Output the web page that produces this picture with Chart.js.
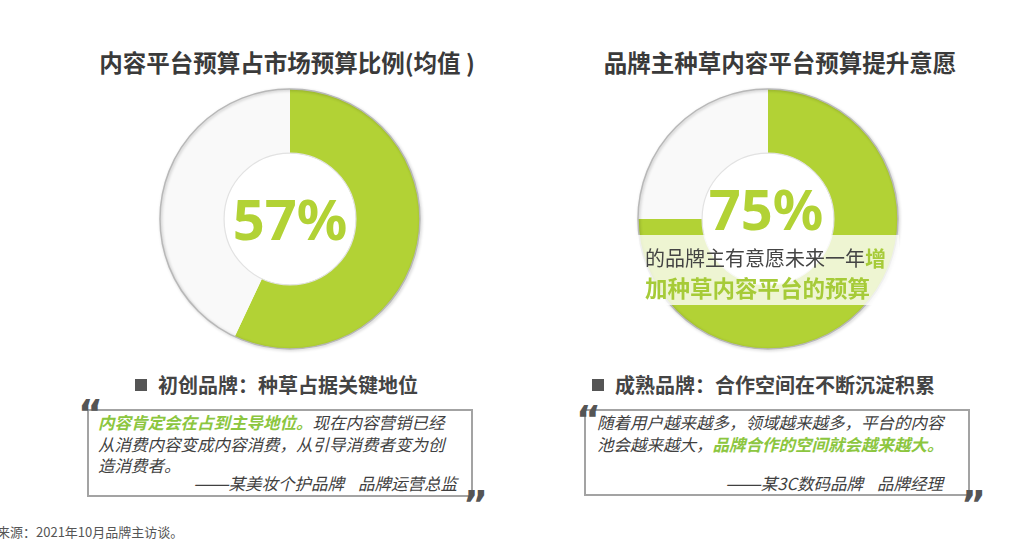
<!DOCTYPE html>
<html>
<head>
<meta charset="utf-8">
<script src="https://cdn.jsdelivr.net/npm/chart.js@4.4.1/dist/chart.umd.min.js"></script>
<style>
  html, body { margin:0; padding:0; background:#fff; }
  #stage { position:relative; width:1016px; height:542px; overflow:hidden; font-family:"Noto Sans CJK SC","Noto Sans",sans-serif; color:#404040; }
  .abs { position:absolute; white-space:nowrap; }
  .title { font-size:23.5px; font-weight:700; color:#3a3a3a; line-height:30px; }
  .sub { font-size:20px; font-weight:700; color:#444; line-height:28px; }
  .sq { display:inline-block; width:12px; height:12px; background:#555; margin-right:11px; vertical-align:2px; }
  .box { position:absolute; border:2.5px solid #a3a3a3; box-sizing:border-box; }
  .quote { font-size:16.5px; font-style:italic; color:#404040; line-height:21.5px; }
  .hl { color:#8cc63f; font-weight:700; }
  .dash { display:inline-block; transform:scaleX(1.3); transform-origin:right center; }
  .gap { display:inline-block; width:14px; }
  .qm { position:absolute; font-family:"DejaVu Sans","Noto Sans",sans-serif; font-weight:700; font-size:38px; line-height:38px; color:#555; }
  .big { font-family:"Noto Sans","Open Sans",sans-serif; font-weight:700; color:#b2d235; font-size:56px; line-height:60px; text-align:center; }
  canvas { position:absolute; }
</style>
</head>
<body>
<div id="stage">
  <div class="abs title" style="left:0;width:574px;text-align:center;top:47px;">内容平台预算占市场预算比例(均值 )</div>
  <div class="abs title" style="left:560px;width:440px;text-align:center;top:47px;">品牌主种草内容平台预算提升意愿</div>

  <canvas id="c1" width="280" height="280" style="left:150px;top:79px;width:280px;height:280px;"></canvas>
  <canvas id="c2" width="280" height="280" style="left:628px;top:79px;width:280px;height:280px;"></canvas>

  <div class="abs big" style="left:190px;width:200px;top:188px;">57%</div>
  <div class="abs big" style="left:666px;width:200px;top:178px;">75%</div>

  <div class="abs" style="left:637px;top:235px;width:262px;height:70px;background:rgba(255,255,255,0.78);"></div>
  <div class="abs" style="left:645px;top:243px;font-size:20px;line-height:28px;color:#444;">的品牌主有意愿未来一年<span style="color:#a6cb38;font-weight:700;font-size:21px;">增</span></div>
  <div class="abs" style="left:645px;top:272px;font-size:22.5px;line-height:30px;color:#a6cb38;font-weight:700;">加种草内容平台的预算</div>

  <div class="abs sub" style="left:135px;top:371px;"><span class="sq"></span>初创品牌：种草占据关键地位</div>
  <div class="abs sub" style="left:592px;top:371px;"><span class="sq"></span>成熟品牌：合作空间在不断沉淀积累</div>

  <div class="box" style="left:87px;top:409px;width:386px;height:88px;"></div>
  <div class="box" style="left:584px;top:409px;width:386px;height:87px;"></div>

  <div class="qm" style="left:78px;top:394px;">“</div>
  <div class="qm" style="left:463px;top:485px;">”</div>
  <div class="qm" style="left:576px;top:400px;">“</div>
  <div class="qm" style="left:961px;top:485px;">”</div>

  <div class="abs quote" style="left:98px;top:412px;"><span class="hl">内容肯定会在占到主导地位。</span>现在内容营销已经<br>从消费内容变成内容消费，从引导消费者变为创<br>造消费者。</div>
  <div class="abs quote" style="left:157px;width:300px;text-align:right;top:473px;"><span class="dash">——</span>某美妆个护品牌<span class="gap"></span>品牌运营总监</div>

  <div class="abs quote" style="left:597px;top:412px;">随着用户越来越多，领域越来越多，平台的内容<br>池会越来越大，<span class="hl">品牌合作的空间就会越来越大。</span></div>
  <div class="abs quote" style="left:643px;width:300px;text-align:right;top:473px;"><span class="dash">——</span>某3C数码品牌<span class="gap"></span>品牌经理</div>

  <div class="abs" style="left:-3px;top:524px;font-size:13px;line-height:16px;color:#555;">来源：2021年10月品牌主访谈。</div>
</div>
<script>
const leftLabels = ['内容平台预算', '其他'];
const leftValues = [57, 43];
const rightLabels = ['有意愿增加预算', '其他'];
const rightValues = [75, 25];
const ringColors = ['#b2d235', '#f9f9f9'];

const ringBorder = {
  id: 'ringBorder',
  afterDatasetsDraw(chart) {
    const arc = chart.getDatasetMeta(0).data[0];
    if (!arc) return;
    const { x, y, outerRadius, innerRadius } = arc.getProps(['x','y','outerRadius','innerRadius'], true);
    const ctx = chart.ctx;
    ctx.save();
    ctx.beginPath();
    ctx.arc(x, y, outerRadius, 0, Math.PI * 2);
    ctx.strokeStyle = '#b8b8b8';
    ctx.lineWidth = 1.5;
    ctx.shadowColor = 'rgba(0,0,0,0.25)';
    ctx.shadowBlur = 3;
    ctx.shadowOffsetX = 1;
    ctx.shadowOffsetY = 1;
    ctx.stroke();
    ctx.restore();
    ctx.save();
    ctx.beginPath();
    ctx.arc(x, y, innerRadius, 0, Math.PI * 2);
    ctx.strokeStyle = '#e2e2e2';
    ctx.lineWidth = 1.2;
    ctx.stroke();
    ctx.restore();
  }
};

function makeRing(id, labels, values) {
  return new Chart(document.getElementById(id), {
    type: 'doughnut',
    data: { labels, datasets: [{ data: values, backgroundColor: ringColors, borderWidth: 0 }] },
    options: {
      responsive: false,
      animation: false,
      events: [],
      radius: 130,
      cutout: 71,
      rotation: 0,
      layout: { padding: 0 },
      plugins: { legend: { display: false }, tooltip: { enabled: false } }
    },
    plugins: [ringBorder]
  });
}
makeRing('c1', leftLabels, leftValues);
makeRing('c2', rightLabels, rightValues);
</script>
</body>
</html>
